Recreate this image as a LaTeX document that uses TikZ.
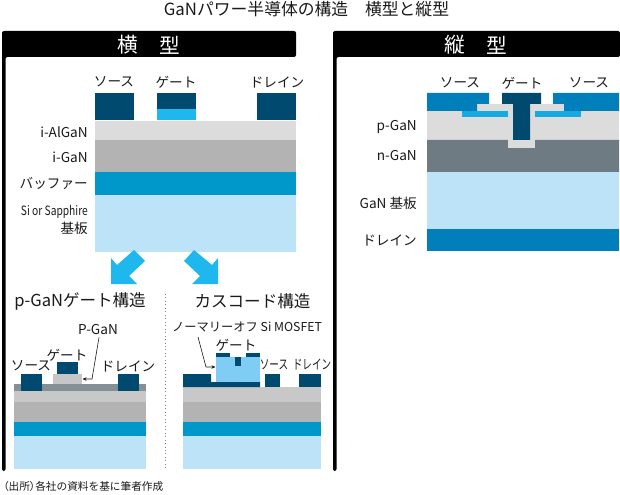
\documentclass[tikz,border=0pt]{standalone}
\usepackage{fontspec}
\setmainfont{Noto Sans CJK JP}
\definecolor{navy}{HTML}{004A70}
\definecolor{skyb}{HTML}{1FB8EE}
\definecolor{lgray}{HTML}{DCDCDC}
\definecolor{mgray}{HTML}{B3B3B3}
\definecolor{sgray}{HTML}{C8C8C8}
\definecolor{dgray}{HTML}{6F7B83}
\definecolor{bufb}{HTML}{0098CB}
\definecolor{subb}{HTML}{BDE3F8}
\definecolor{srcb}{HTML}{007FBA}
\definecolor{fetb}{HTML}{7FCDF5}
\definecolor{txt}{HTML}{1A1A1A}
\tikzset{
  lbl/.style={inner sep=0pt,text=txt,font=\fontsize{10.2}{10.2}\selectfont},
  sublbl/.style={inner sep=0pt,text=txt,font=\fontsize{9.2}{9.2}\selectfont},
  head/.style={inner sep=0pt,text=white,font=\fontsize{15.5}{15.5}\selectfont},
  sect/.style={inner sep=0pt,text=txt,font=\fontsize{12.4}{12.4}\selectfont},
  narrow/.style={inner sep=0pt,text=txt,font=\fontsize{10}{10}\selectfont,xscale=0.72},
  leader/.style={draw=txt,line width=0.45pt,-{Stealth[length=3pt,width=2.6pt]}},
}
\usetikzlibrary{arrows.meta}
\begin{document}
\begin{tikzpicture}[x=0.75pt,y=-0.75pt]
\useasboundingbox (0,0) rectangle (620,495);
\fill[white] (0,0) rectangle (620,495);
% title
\node[inner sep=0pt,text=txt,font=\fontsize{12.6}{12.6}\selectfont] (title) at (306.5,9) {GaNパワー半導体の構造　横型と縦型};
% left frame
\fill[black,rounded corners=1.5pt] (2,471) -- (2,31) -- (296,31) -- (296,57) -- (5.5,57) -- (5.5,471) -- cycle;
\node[head] (hy1) at (128,45) {横};
\node[head] (hy2) at (170,45) {型};
% right frame
\fill[black,rounded corners=1.5pt] (333,471) -- (333,31) -- (620,31) -- (620,57) -- (336.5,57) -- (336.5,471) -- cycle;
\node[head] (ht1) at (455,45) {縦};
\node[head] (ht2) at (497,45) {型};
% main horizontal device
\fill[lgray] (95,121) rectangle (296,140);
\fill[mgray] (95,140) rectangle (296,172);
\fill[bufb] (95,172) rectangle (296,195);
\fill[subb] (95,195) rectangle (296,252);
\fill[navy] (95,93) rectangle (134,120.5);
\fill[navy] (157,93) rectangle (196,109);
\fill[skyb] (157,109) rectangle (196,120.5);
\fill[navy] (257,93) rectangle (296,120.5);
\node[lbl] (l1) at (114,82) {ソース};
\node[lbl] (l2) at (176,82) {ゲート};
\node[lbl] (l3) at (277,82) {ドレイン};
\node[lbl,anchor=east] (l4) at (88,132) {i-AlGaN};
\node[lbl,anchor=east] (l5) at (88,157) {i-GaN};
\node[lbl,anchor=east] (l6) at (88,183) {バッファー};
\node[inner sep=0pt,text=txt,anchor=east,font=\fontsize{9.6}{9.6}\selectfont,xscale=0.8] (l7) at (88,212) {Si or Sapphire};
\node[lbl,anchor=east] (l8) at (88,228) {基板};
% vertical device
\fill[lgray] (427,111) rectangle (619,140);
\fill[lgray] (477,104) rectangle (564,111);
\fill[srcb] (427,93) -- (489,93) -- (489,104) -- (477,104) -- (477,111) -- (427,111) -- cycle;
\fill[srcb] (619,93) -- (553,93) -- (553,104) -- (564,104) -- (564,111) -- (619,111) -- cycle;
\fill[skyb!75!srcb] (462,111) rectangle (508,117);
\fill[skyb!75!srcb] (535,111) rectangle (581,117);
\fill[dgray] (427,140) -- (508,140) -- (508,148) -- (535,148) -- (535,140) -- (619,140) -- (619,172) -- (427,172) -- cycle;
\fill[lgray] (508,140) rectangle (535,148);
\fill[navy] (502,93) -- (541,93) -- (541,104) -- (530,104) -- (530,140) -- (513,140) -- (513,104) -- (502,104) -- cycle;
\fill[subb] (427,172) rectangle (619,229);
\fill[srcb] (427,229) rectangle (619,251);
\node[lbl] (r1) at (460,83) {ソース};
\node[lbl] (r2) at (522,83) {ゲート};
\node[lbl] (r3) at (589,83) {ソース};
\node[lbl,anchor=east] (r4) at (417,127) {p-GaN};
\node[lbl,anchor=east] (r5) at (417,156) {n-GaN};
\node[lbl,anchor=east] (r6) at (417,203) {GaN 基板};
\node[lbl,anchor=east] (r7) at (417,240) {ドレイン};
% block arrows
\fill[skyb] (111,284) -- (111,258) -- (117,265) -- (134,250) -- (145,261) -- (129,276) -- (137,284) -- cycle;
\fill[skyb] (218,284) -- (218,258) -- (212,265) -- (194,250) -- (184,261) -- (200,276) -- (192,284) -- cycle;
% section titles & divider
\node[sect] (s1) at (80,301) {p-GaNゲート構造};
\node[sect] (s2) at (252.5,301) {カスコード構造};
\draw[gray,line width=0.6pt,dotted] (165,294) -- (165,470);
% p-GaN device
\fill[dgray!85!white] (14,384) rectangle (146,390.5);
\fill[sgray] (14,390.5) rectangle (146,402);
\fill[mgray] (14,402) rectangle (146,422);
\fill[bufb] (14,422) rectangle (146,436);
\fill[subb] (14,436) rectangle (146,469);
\fill[navy] (21,374) rectangle (42,390.5);
\fill[lgray!90!black] (53,374) rectangle (82,384);
\fill[navy] (57,362) rectangle (78,374);
\fill[navy] (118,374) rectangle (139,390.5);
\node[lbl] (p1) at (98,330) {P-GaN};
\node[lbl] (p2) at (67,355) {ゲート};
\node[lbl] (p3) at (31,366) {ソース};
\node[lbl] (p4) at (128,366) {ドレイン};
\coordinate (pb) at (92,379);
\coordinate (pe) at (82.5,379);
\draw[leader] (p1.south) ++(1,2) -- (pb) -- (pe);
% cascode device
\fill[sgray] (183,387) rectangle (321,402);
\fill[mgray] (183,402) rectangle (321,422);
\fill[bufb] (183,422) rectangle (321,436);
\fill[subb] (183,436) rectangle (321,469);
\fill[navy] (183,374) -- (211,374) -- (211,382) -- (260,382) -- (260,387) -- (183,387) -- cycle;
\fill[fetb] (216,357) rectangle (260,382);
\fill[navy] (216,353) rectangle (230,357);
\fill[navy] (246,353) rectangle (260,357);
\fill[navy] (235,357) rectangle (241,366);
\fill[navy] (265,374) rectangle (280,387);
\fill[navy] (299,374) rectangle (321,387);
\node[sublbl] (c1) at (247,327) {ノーマリーオフ Si MOSFET};
\node[lbl] (c2) at (236,345) {ゲート};
\node[narrow] (c3) at (274,365) {ソース};
\node[narrow] (c4) at (312,365) {ドレイン};
\coordinate (cs) at (198,337);
\coordinate (cb) at (206,367);
\coordinate (ce) at (215.5,367);
\draw[leader] (cs) -- (cb) -- (ce);
% source note
\node[inner sep=0pt,text=txt,anchor=west,font=\fontsize{8}{8}\selectfont] (src) at (3,486) {\addfontfeature{RawFeature=+palt}（出所）\addfontfeature{RawFeature=-palt}各社の資料を基に筆者作成};
\end{tikzpicture}
\end{document}
